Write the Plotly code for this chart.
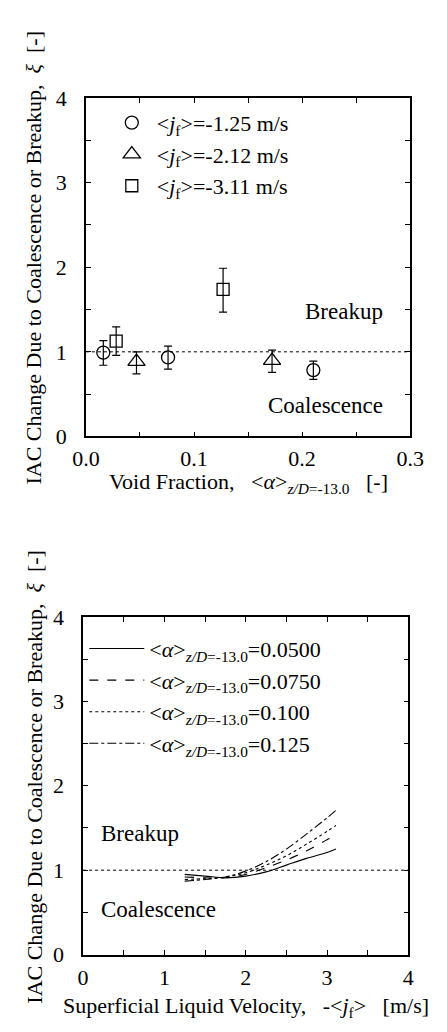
import plotly.graph_objects as go

# ---------------- Top panel data ----------------
alpha_c = [0.0161, 0.0760, 0.2104]
xi_c = [0.991, 0.934, 0.784]
xi_c_up = [0.142, 0.134, 0.106]
xi_c_dn = [0.150, 0.139, 0.110]

alpha_t = [0.0468, 0.1722]
xi_t = [0.885, 0.896]
xi_t_up = [0.115, 0.124]
xi_t_dn = [0.145, 0.139]

alpha_s = [0.0280, 0.1269]
xi_s = [1.126, 1.737]
xi_s_up = [0.169, 0.250]
xi_s_dn = [0.169, 0.267]

legend_top = ["&lt;<i>j</i><sub>f</sub>&gt;=-1.25 m/s",
              "&lt;<i>j</i><sub>f</sub>&gt;=-2.12 m/s",
              "&lt;<i>j</i><sub>f</sub>&gt;=-3.11 m/s"]

# ---------------- Bottom panel data ----------------
jf = [1.25, 1.5, 1.75, 2.0, 2.25, 2.5, 2.75, 3.0, 3.11]
xi_a050 = [0.95, 0.93, 0.91, 0.93, 0.98, 1.06, 1.14, 1.21, 1.25]
xi_a075 = [0.92, 0.91, 0.91, 0.95, 1.03, 1.12, 1.23, 1.36, 1.41]
xi_a100 = [0.89, 0.90, 0.92, 0.97, 1.06, 1.17, 1.31, 1.46, 1.53]
xi_a125 = [0.87, 0.89, 0.92, 0.99, 1.10, 1.25, 1.43, 1.62, 1.71]
alpha_labels = ["0.0500", "0.0750", "0.100", "0.125"]

FONT = "Liberation Serif"
W, H = 447, 1032

fig = go.Figure()

err_style = dict(type="data", symmetric=False, color="black", thickness=1.2, width=4)
mk_line = dict(color="black", width=1.3)

fig.add_trace(go.Scatter(x=alpha_c, y=xi_c, mode="markers", name=legend_top[0],
                         marker=dict(symbol="circle-open", size=13, color="black", line=mk_line),
                         error_y=dict(array=xi_c_up, arrayminus=xi_c_dn, **err_style),
                         xaxis="x", yaxis="y", legend="legend"))
fig.add_trace(go.Scatter(x=alpha_t, y=xi_t, mode="markers", name=legend_top[1],
                         marker=dict(symbol="triangle-up-open", size=15, color="black", line=mk_line),
                         error_y=dict(array=xi_t_up, arrayminus=xi_t_dn, **err_style),
                         xaxis="x", yaxis="y", legend="legend"))
fig.add_trace(go.Scatter(x=alpha_s, y=xi_s, mode="markers", name=legend_top[2],
                         marker=dict(symbol="square-open", size=12, color="black", line=mk_line),
                         error_y=dict(array=xi_s_up, arrayminus=xi_s_dn, **err_style),
                         xaxis="x", yaxis="y", legend="legend"))

sub = "&lt;<i>α</i>&gt;<sub><i>z/D</i>=-13.0</sub>="
dashes = ["solid", "dash", "dot", "dashdot"]
series = [xi_a050, xi_a075, xi_a100, xi_a125]
for lab, ys, d in zip(alpha_labels, series, dashes):
    fig.add_trace(go.Scatter(x=jf, y=ys, mode="lines", name=sub + lab,
                             line=dict(color="black", width=1.1, dash=d, shape="spline"),
                             xaxis="x2", yaxis="y2", legend="legend2"))

# reference line xi = 1 in both panels
fig.add_shape(type="line", xref="x domain", yref="y", x0=0, x1=1, y0=1, y1=1,
              line=dict(color="black", width=1, dash="dot"))
fig.add_shape(type="line", xref="x2 domain", yref="y2", x0=0, x1=1, y0=1, y1=1,
              line=dict(color="black", width=1, dash="dot"))

def px2x(p):
    return p / W

def px2y(p):
    return 1 - p / H

axis_common = dict(showline=True, linecolor="black", linewidth=1.6, mirror="ticks",
                   ticks="inside", ticklen=5, tickwidth=1.3, tickcolor="black",
                   showgrid=False, zeroline=False,
                   tickfont=dict(family=FONT, size=22, color="black"),
                   minor=dict(ticks="inside", ticklen=5, tickwidth=1.3, tickcolor="black", showgrid=False))

fig.update_layout(
    width=W, height=H, margin=dict(l=0, r=0, t=0, b=0),
    paper_bgcolor="white", plot_bgcolor="white",
    font=dict(family=FONT, size=22, color="black"),
    xaxis=dict(domain=[px2x(76.7), px2x(422.7)], range=[0, 0.3], dtick=0.1, tickformat=".1f",
               anchor="y", ticklabelstandoff=1),
    yaxis=dict(domain=[px2y(435), px2y(88)], range=[0, 4], dtick=1,
               anchor="x", ticklabelstandoff=13),
    xaxis2=dict(domain=[px2x(73.7), px2x(420.7)], range=[0, 4], dtick=1,
                anchor="y2", ticklabelstandoff=2),
    yaxis2=dict(domain=[px2y(966), px2y(620)], range=[0, 4], dtick=1,
                anchor="x2", ticklabelstandoff=13),
    legend=dict(x=px2x(99), y=px2y(92), xanchor="left", yanchor="top",
                bgcolor="rgba(0,0,0,0)", font=dict(family=FONT, size=22),
                itemwidth=40, tracegroupgap=0),
    legend2=dict(x=px2x(75), y=px2y(631), xanchor="left", yanchor="top",
                 bgcolor="rgba(0,0,0,0)", font=dict(family=FONT, size=22),
                 itemwidth=55, tracegroupgap=0),
    showlegend=True,
)
for k in ["xaxis", "yaxis", "xaxis2", "yaxis2"]:
    fig.layout[k].update(axis_common)
fig.layout.xaxis.minor.dtick = 0.05
fig.layout.yaxis.minor.dtick = 0.5
fig.layout.xaxis2.minor.dtick = 0.5
fig.layout.yaxis2.minor.dtick = 0.5

ann_font = dict(family=FONT, size=22, color="black")
big_font = dict(family=FONT, size=23, color="black")
ytitle = "IAC Change Due to Coalescence or Breakup,&nbsp;&nbsp;<i>ξ</i>&nbsp;&nbsp;[-]"
base = dict(xref="paper", yref="paper", showarrow=False, yanchor="middle")
annotations = [
    dict(text="Void Fraction,&nbsp;&nbsp;&nbsp;&lt;<i>α</i>&gt;<sub><i>z/D</i>=-13.0</sub>&nbsp;&nbsp;&nbsp;[-]",
         x=px2x(250), y=px2y(483), xanchor="center", font=ann_font, **base),
    dict(text=ytitle, textangle=-90, x=px2x(21), y=px2y(252), xanchor="center", font=ann_font, **base),
    dict(text="Superficial Liquid Velocity,&nbsp;&nbsp;&nbsp;-&lt;<i>j</i><sub>f</sub>&gt;&nbsp;&nbsp;&nbsp;[m/s]",
         x=px2x(248), y=px2y(1020), xanchor="center", font=ann_font, **base),
    dict(text=ytitle, textangle=-90, x=px2x(21), y=px2y(784), xanchor="center", font=ann_font, **base),
    dict(text="Breakup", x=px2x(396), y=px2y(307), xanchor="right", font=big_font, **base),
    dict(text="Coalescence", x=px2x(396), y=px2y(403), xanchor="right", font=big_font, **base),
    dict(text="Breakup", x=px2x(91), y=px2y(842), xanchor="left", font=big_font, **base),
    dict(text="Coalescence", x=px2x(91), y=px2y(920), xanchor="left", font=big_font, **base),
]
fig.update_layout(annotations=annotations)

fig.write_html("out.html", config={"displayModeBar": False})
